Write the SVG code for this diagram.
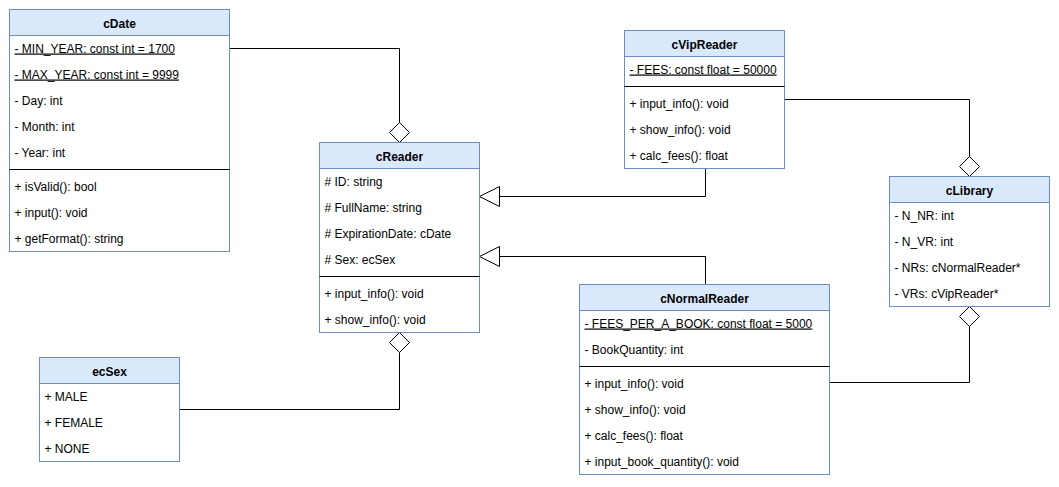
<svg xmlns="http://www.w3.org/2000/svg" width="1059" height="487" viewBox="0 0 1059 487">
<style>
.body{fill:#ffffff;stroke:#6c8ebf;stroke-width:1}
.head{fill:#dae8fc;stroke:#6c8ebf;stroke-width:1}
.sep{stroke:#000000;stroke-width:1}
.t{font-family:"Liberation Sans",Arial,Helvetica,sans-serif;font-size:12px;fill:#000000}
.h{font-family:"Liberation Sans",Arial,Helvetica,sans-serif;font-size:12px;font-weight:bold;fill:#000000;text-anchor:middle}
.u{text-decoration:underline}
.line{fill:none;stroke:#000000;stroke-width:1}
.dia{fill:#ffffff;stroke:#000000;stroke-width:1}
.tri{fill:#ffffff;stroke:#000000;stroke-width:1}
</style>
<rect width="1059" height="487" fill="#ffffff"/>
<g id="connectors">
<path class="line" d="M229.5,48.5 H399.5 V122.5"/>
<polygon class="dia" points="399.5,122.5 409.5,132.5 399.5,142.5 389.5,132.5"/>
<path class="line" d="M399.5,352.5 V409.5 H179.5"/>
<polygon class="dia" points="399.5,332.5 409.5,342.5 399.5,352.5 389.5,342.5"/>
<path class="line" d="M705.5,168.5 V196.5 H499.5"/>
<polygon class="tri" points="479.5,196.5 499.5,186.5 499.5,206.5"/>
<path class="line" d="M705.5,284.5 V256.5 H499.5"/>
<polygon class="tri" points="479.5,256.5 499.5,246.5 499.5,266.5"/>
<path class="line" d="M784.5,99.5 H969.5 V156.5"/>
<polygon class="dia" points="969.5,156.5 979.5,166.5 969.5,176.5 959.5,166.5"/>
<path class="line" d="M969.5,326.5 V382.5 H829.5"/>
<polygon class="dia" points="969.5,306.5 979.5,316.5 969.5,326.5 959.5,316.5"/>
</g>
<g id="cDate">
<rect class="body" x="9.5" y="9.5" width="220" height="242"/>
<rect class="head" x="9.5" y="9.5" width="220" height="26"/>
<text class="h" x="119.5" y="27.5">cDate</text>
<text class="t u" x="14.5" y="52.5">- MIN_YEAR: const int = 1700</text>
<text class="t u" x="14.5" y="78.5">- MAX_YEAR: const int = 9999</text>
<text class="t" x="14.5" y="104.5">- Day: int</text>
<text class="t" x="14.5" y="130.5">- Month: int</text>
<text class="t" x="14.5" y="156.5">- Year: int</text>
<line class="sep" x1="9.5" y1="169.5" x2="229.5" y2="169.5"/>
<text class="t" x="14.5" y="190.5">+ isValid(): bool</text>
<text class="t" x="14.5" y="216.5">+ input(): void</text>
<text class="t" x="14.5" y="242.5">+ getFormat(): string</text>
</g>
<g id="cReader">
<rect class="body" x="319.5" y="142.5" width="160" height="190"/>
<rect class="head" x="319.5" y="142.5" width="160" height="26"/>
<text class="h" x="399.5" y="160.5">cReader</text>
<text class="t" x="324.5" y="185.5"># ID: string</text>
<text class="t" x="324.5" y="211.5"># FullName: string</text>
<text class="t" x="324.5" y="237.5"># ExpirationDate: cDate</text>
<text class="t" x="324.5" y="263.5"># Sex: ecSex</text>
<line class="sep" x1="319.5" y1="276.5" x2="479.5" y2="276.5"/>
<text class="t" x="324.5" y="297.5">+ input_info(): void</text>
<text class="t" x="324.5" y="323.5">+ show_info(): void</text>
</g>
<g id="cVipReader">
<rect class="body" x="624.5" y="30.5" width="160" height="138"/>
<rect class="head" x="624.5" y="30.5" width="160" height="26"/>
<text class="h" x="704.5" y="48.5">cVipReader</text>
<text class="t u" x="629.5" y="73.5">- FEES: const float = 50000</text>
<line class="sep" x1="624.5" y1="86.5" x2="784.5" y2="86.5"/>
<text class="t" x="629.5" y="107.5">+ input_info(): void</text>
<text class="t" x="629.5" y="133.5">+ show_info(): void</text>
<text class="t" x="629.5" y="159.5">+ calc_fees(): float</text>
</g>
<g id="cLibrary">
<rect class="body" x="889.5" y="176.5" width="160" height="130"/>
<rect class="head" x="889.5" y="176.5" width="160" height="26"/>
<text class="h" x="969.5" y="194.5">cLibrary</text>
<text class="t" x="894.5" y="219.5">- N_NR: int</text>
<text class="t" x="894.5" y="245.5">- N_VR: int</text>
<text class="t" x="894.5" y="271.5">- NRs: cNormalReader*</text>
<text class="t" x="894.5" y="297.5">- VRs: cVipReader*</text>
</g>
<g id="cNormalReader">
<rect class="body" x="579.5" y="284.5" width="250" height="190"/>
<rect class="head" x="579.5" y="284.5" width="250" height="26"/>
<text class="h" x="704.5" y="302.5">cNormalReader</text>
<text class="t u" x="584.5" y="327.5">- FEES_PER_A_BOOK: const float = 5000</text>
<text class="t" x="584.5" y="353.5">- BookQuantity: int</text>
<line class="sep" x1="579.5" y1="366.5" x2="829.5" y2="366.5"/>
<text class="t" x="584.5" y="387.5">+ input_info(): void</text>
<text class="t" x="584.5" y="413.5">+ show_info(): void</text>
<text class="t" x="584.5" y="439.5">+ calc_fees(): float</text>
<text class="t" x="584.5" y="465.5">+ input_book_quantity(): void</text>
</g>
<g id="ecSex">
<rect class="body" x="39.5" y="357.5" width="140" height="104"/>
<rect class="head" x="39.5" y="357.5" width="140" height="26"/>
<text class="h" x="109.5" y="375.5">ecSex</text>
<text class="t" x="44.5" y="400.5">+ MALE</text>
<text class="t" x="44.5" y="426.5">+ FEMALE</text>
<text class="t" x="44.5" y="452.5">+ NONE</text>
</g>
</svg>
